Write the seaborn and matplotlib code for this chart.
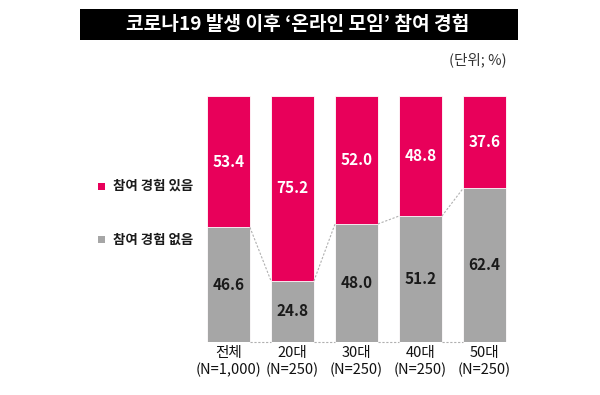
import matplotlib
matplotlib.use("Agg")
import matplotlib.pyplot as plt
import seaborn as sns
import pandas as pd
from matplotlib.patches import Rectangle

categories = ["전체\n(N=1,000)", "20대\n(N=250)", "30대\n(N=250)", "40대\n(N=250)", "50대\n(N=250)"]
yes_vals = [53.4, 75.2, 52.0, 48.8, 37.6]
no_vals = [46.6, 24.8, 48.0, 51.2, 62.4]
series_names = ["참여 경험 있음", "참여 경험 없음"]

PINK = "#e8005a"
GRAY = "#a6a6a6"

sns.set_theme(style="white")
plt.rcParams["font.family"] = ["Noto Sans CJK KR", "DejaVu Sans"]

df = pd.DataFrame({"cat": categories, "yes": yes_vals, "no": no_vals})
df["total"] = df["yes"] + df["no"]

fig = plt.figure(figsize=(6, 3.95), dpi=100)
ax = fig.add_axes([0.3275, 0.1342, 0.5333, 0.6228])

bw = 0.67
sns.barplot(data=df, x="cat", y="total", color=PINK, width=bw, saturation=1, ax=ax,
            edgecolor="white", linewidth=0.6)
sns.barplot(data=df, x="cat", y="no", color=GRAY, width=bw, saturation=1, ax=ax,
            edgecolor="white", linewidth=0.6)

ax.set_ylim(0, 100)
ax.set_xlim(-0.5, len(categories) - 0.5)
ax.set_xlabel("")
ax.set_ylabel("")
ax.set_yticks([])
for s in ax.spines.values():
    s.set_visible(False)
ax.tick_params(axis="x", length=0, pad=3, labelsize=10.5, labelcolor="#111111")
for t in ax.get_xticklabels():
    t.set_linespacing(1.2)

# value labels
for i, (y, n) in enumerate(zip(yes_vals, no_vals)):
    ax.text(i, n + y / 2, f"{y:.1f}", ha="center", va="center", color="white",
            fontsize=11, fontweight="bold")
    ax.text(i, n / 2, f"{n:.1f}", ha="center", va="center", color="#1a1a1a",
            fontsize=11, fontweight="bold")

# dashed connectors
h = bw / 2
for i in range(len(categories) - 1):
    ax.plot([i + h, i + 1 - h], [no_vals[i], no_vals[i + 1]], ls=(0, (2, 1.5)),
            color="#b0b0b0", lw=0.8, clip_on=False)
    ax.plot([i + h, i + 1 - h], [0, 0], ls=(0, (2, 1.5)),
            color="#b0b0b0", lw=0.8, clip_on=False)

# title box
fig.patches.append(Rectangle((80 / 600, 1 - 40 / 395), 438 / 600, 31 / 395,
                             transform=fig.transFigure, facecolor="black", edgecolor="none"))
fig.text(298 / 600, 1 - 24.5 / 395, "코로나19 발생 이후 ‘온라인 모임’ 참여 경험",
         ha="center", va="center", color="white", fontsize=13.8, fontweight="bold")
fig.text(507 / 600, 1 - 60 / 395, "(단위; %)", ha="right", va="center",
         fontsize=10.5, color="#333333")

# legend
for yc, col, name in [(186, PINK, series_names[0]), (240, GRAY, series_names[1])]:
    fig.patches.append(Rectangle((98 / 600, 1 - (yc + 3.5) / 395), 7 / 600, 7 / 395,
                                 transform=fig.transFigure, facecolor=col, edgecolor="none"))
    fig.text(113 / 600, 1 - yc / 395, name, ha="left", va="center",
             fontsize=9.7, fontweight="bold", color="#1a1a1a")

fig.savefig("out.png", dpi=100)
